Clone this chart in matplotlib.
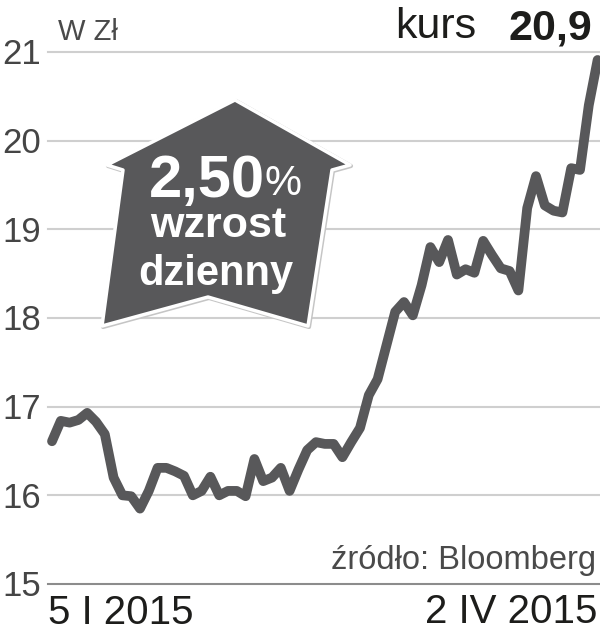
import matplotlib
matplotlib.use("Agg")
import matplotlib.pyplot as plt
from matplotlib.patches import Polygon
from matplotlib.transforms import Affine2D
from matplotlib import font_manager as fm

names = {f.name for f in fm.fontManager.ttflist}
NARROW = "Liberation Sans Narrow" if "Liberation Sans Narrow" in names else "Liberation Sans"

prices = [16.61, 16.84, 16.82, 16.85, 16.93, 16.83, 16.69, 16.20, 16.00, 15.99,
          15.85, 16.05, 16.31, 16.31, 16.27, 16.22, 16.00, 16.05, 16.21, 16.00,
          16.05, 16.05, 15.99, 16.41, 16.16, 16.20, 16.31, 16.05, 16.29, 16.51,
          16.60, 16.58, 16.58, 16.43, 16.60, 16.76, 17.13, 17.31, 17.69, 18.07,
          18.18, 18.03, 18.37, 18.80, 18.63, 18.88, 18.49, 18.55, 18.51, 18.87,
          18.71, 18.56, 18.53, 18.31, 19.24, 19.60, 19.27, 19.21, 19.19, 19.69,
          19.67, 20.40, 20.91]
y_ticks = [15, 16, 17, 18, 19, 20, 21]
start_label = "5 I 2015"
end_label = "2 IV 2015"

W, H = 600, 640
fig = plt.figure(figsize=(W / 100, H / 100), dpi=100, facecolor="white")
L, R, T, B = 48, 600, 52, 584
ax = fig.add_axes([L / W, 1 - B / H, (R - L) / W, (B - T) / H])
ax.set_ylim(15, 21)
ax.set_xlim((L - 52) / 8.8, (R - 52) / 8.8)
for s in ax.spines.values():
    s.set_visible(False)
ax.set_xticks([])
ax.set_yticks([])
for v in y_ticks:
    ax.axhline(v, color="#8c8c8c" if v == 15 else "#cfcfcf", lw=1.5, zorder=1, clip_on=False)

ax.plot(range(len(prices)), prices, color="#58585a", lw=7.0, solid_joinstyle="round",
        solid_capstyle="round", zorder=2, clip_on=False)

px = Affine2D().scale(1 / W, -1 / H).translate(0, 1) + fig.transFigure

for v in y_ticks:
    y = B - (v - 15) * (B - T) / 6
    fig.text(2 / W, 1 - (y + 3) / H, str(v), fontsize=25, color="#454545", family="Liberation Sans",
             ha="left", va="center")

fig.text(58 / W, 1 - 32 / H, "W Zł", fontsize=21, color="#4a4a4a", family=NARROW, ha="left", va="center")
fig.text(395 / W, 1 - 27 / H, "kurs", fontsize=31, color="#1d1d1b", family=NARROW, ha="left", va="center")
fig.text(592 / W, 1 - 29 / H, "20,9", fontsize=31, color="#1d1d1b", family=NARROW, fontweight="bold",
         ha="right", va="center")
fig.text(596 / W, 1 - 560 / H, "źródło: Bloomberg", fontsize=23.5, color="#4a4a4a", family=NARROW,
         ha="right", va="center")
fig.text(48 / W, 1 - 613 / H, start_label, fontsize=29, color="#1d1d1b", family="Liberation Sans",
         ha="left", va="center")
fig.text(597 / W, 1 - 612 / H, end_label, fontsize=29, color="#1d1d1b", family="Liberation Sans",
         ha="right", va="center")

badge = [(235, 100), (350, 165), (332, 170), (308, 326), (208, 297), (102, 326), (123, 170), (107, 165)]
fig.add_artist(Polygon([(x + 1, y + 1) for x, y in badge], closed=True, transform=px, fc="#b5b5b5",
                       ec="#c5c5c5", lw=3, joinstyle="round", zorder=3))
fig.add_artist(Polygon(badge, closed=True, transform=px, fc="#58585a", ec="white", lw=2.5,
                       joinstyle="round", zorder=4))

fig.text(265 / W, 1 - 181 / H, "2,50", fontsize=43, color="white", family="Liberation Sans", fontweight="bold",
         ha="right", va="center", zorder=5)
fig.text(265 / W, 1 - 184 / H, "%", fontsize=30, color="white", family=NARROW, ha="left", va="center", zorder=5)
fig.text(218 / W, 1 - 226 / H, "wzrost", fontsize=31, color="white", family=NARROW, fontweight="bold",
         ha="center", va="center", zorder=5)
fig.text(216 / W, 1 - 274 / H, "dzienny", fontsize=30, color="white", family=NARROW, fontweight="bold",
         ha="center", va="center", zorder=5)

fig.savefig("out.png", dpi=100)
